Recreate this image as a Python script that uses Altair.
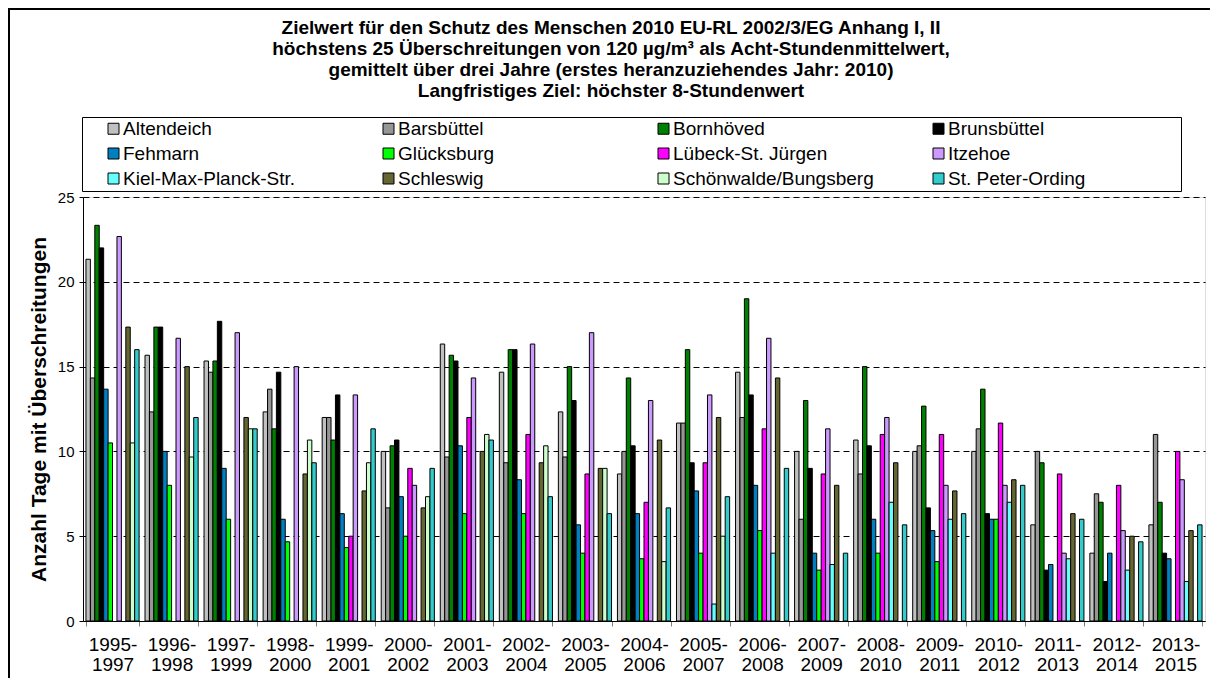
import altair as alt
import pandas as pd

periods = ["1995- 1997", "1996- 1998", "1997- 1999", "1998- 2000", "1999- 2001",
           "2000- 2002", "2001- 2003", "2002- 2004", "2003- 2005", "2004- 2006",
           "2005- 2007", "2006- 2008", "2007- 2009", "2008- 2010", "2009- 2011",
           "2010- 2012", "2011- 2013", "2012- 2014", "2013- 2015"]

stations = ["Altendeich", "Barsbüttel", "Bornhöved", "Brunsbüttel", "Fehmarn",
            "Glücksburg", "Lübeck-St. Jürgen", "Itzehoe", "Kiel-Max-Planck-Str.",
            "Schleswig", "Schönwalde/Bungsberg", "St. Peter-Ording"]

colors = ["#C0C0C0", "#969696", "#008000", "#000000", "#0080C0", "#00FF00",
          "#FF00FF", "#CC99FF", "#66FFFF", "#666633", "#CCFFCC", "#33CCCC"]

altendeich = [21.33, 15.67, 15.33, 12.33, 12, 10, 16.33, 14.67, 12.33, 8.67,
              11.67, 14.67, 10, 10.67, 10, 10, 5.67, 4, 5.67]
barsbuettel = [14.33, 12.33, 14.67, 13.67, 12, 6.67, 9.67, 9.33, 9.67, 10,
               11.67, 12, 6, 8.67, 10.33, 11.33, 10, 7.5, 11]
bornhoeved = [23.33, 17.33, 15.33, 11.33, 10.67, 10.33, 15.67, 16, 15, 14.33,
              16, 19, 13, 15, 12.67, 13.67, 9.33, 7, 7]
brunsbuettel = [22, 17.33, 17.67, 14.67, 13.33, 10.67, 15.33, 16, 13, 10.33,
                9.33, 13.33, 9, 10.33, 6.67, 6.33, 3, 2.33, 4]
fehmarn = [13.67, 10, 9, 6, 6.33, 7.33, 10.33, 8.33, 5.67, 6.33,
           7.67, 8, 4, 6, 5.33, 6, 3.33, 4, 3.67]
gluecksburg = [10.5, 8, 6, 4.67, 4.33, 5, 6.33, 6.33, 4, 3.67,
               4, 5.33, 3, 4, 3.5, 6, None, None, None]
luebeck = [None, None, None, None, 5, 9, 12, 11, 8.67, 7,
           9.33, 11.33, 8.67, 11, 11, 11.67, 8.67, 8, 10]
itzehoe = [22.67, 16.67, 17, 15, 13.33, 8, 14.33, 16.33, 17, 13,
           13.33, 16.67, 11.33, 12, 8, 8, 4, 5.33, 8.33]
kiel = [None, None, None, None, None, None, None, None, None, None,
        1, 4, 3.33, 7, 6, 7, 3.67, 3, 2.33]
schleswig = [17.33, 15, 12, 8.67, 7.67, 6.67, 10, 9.33, 9, 10.67,
             12, 14.33, 8, 9.33, 7.67, 8.33, 6.33, 5, 5.33]
schoenwalde = [10.5, 9.67, 11.33, 10.67, 9.33, 7.33, 11, 10.33, 9, 3.5,
               5, None, None, None, None, None, None, None, None]
st_peter = [16, 12, 11.33, 9.33, 11.33, 9, 10.67, 7.33, 6.33, 6.67,
            7.33, 9, 4, 5.67, 6.33, 8, 6, 4.67, 5.67]

series = [altendeich, barsbuettel, bornhoeved, brunsbuettel, fehmarn, gluecksburg,
          luebeck, itzehoe, kiel, schleswig, schoenwalde, st_peter]

title_lines = [
    "Zielwert für den Schutz des Menschen 2010 EU-RL 2002/3/EG Anhang I, II",
    "höchstens 25 Überschreitungen von 120 µg/m³ als Acht-Stundenmittelwert,",
    "gemittelt über drei Jahre (erstes heranzuziehendes Jahr: 2010)",
    "Langfristiges Ziel: höchster 8-Stundenwert",
]

rows = []
for st, vals in zip(stations, series):
    for p, v in zip(periods, vals):
        if v is not None:
            rows.append({"Zeitraum": p, "Station": st, "Tage": v})
df = pd.DataFrame(rows)

FONT = "Liberation Sans"

bars = alt.Chart(df).mark_bar(stroke="black", strokeWidth=1).encode(
    x=alt.X("Zeitraum:N", sort=periods,
            scale=alt.Scale(domain=periods, paddingInner=0.1, paddingOuter=0.05),
            axis=alt.Axis(title=None, labelAngle=0, tickBand="extent",
                          tickColor="#808080", tickSize=5, domainColor="black",
                          labelExpr="split(datum.label, ' ')", labelLineHeight=20,
                          labelFontSize=19, labelFont=FONT, labelColor="black",
                          labelPadding=9, labelOverlap=False, grid=False)),
    xOffset=alt.XOffset("Station:N", sort=stations,
                        scale=alt.Scale(domain=stations, paddingInner=0, paddingOuter=0)),
    y=alt.Y("Tage:Q", scale=alt.Scale(domain=[0, 25]),
            axis=alt.Axis(values=[0, 5, 10, 15, 20, 25],
                          title="Anzahl Tage mit Überschreitungen",
                          titleFontSize=21, titleFontWeight="bold", titleFont=FONT,
                          titleColor="black", titlePadding=8,
                          labelFontSize=15, labelFont=FONT, labelColor="black",
                          labelPadding=5, tickSize=4, tickColor="black",
                          domainColor="black", grid=True, gridColor="black",
                          gridDash=[6, 4], gridWidth=1)),
    color=alt.Color("Station:N", sort=stations,
                    scale=alt.Scale(domain=stations, range=colors),
                    legend=alt.Legend(orient="none", legendX=-1, legendY=-80,
                                      direction="horizontal", columns=4,
                                      gridAlign="all", title=" ",
                                      titleOrient="right", titlePadding=94,
                                      columnPadding=35, rowPadding=5, padding=2,
                                      symbolOffset=20, symbolType="square",
                                      symbolSize=121, symbolStrokeColor="black",
                                      symbolStrokeWidth=1, labelOffset=0,
                                      labelLimit=400,
                                      labelFontSize=19, labelFont=FONT,
                                      labelColor="black", strokeColor="black",
                                      fillColor="white")),
)

frame_data = alt.Data(values=[{"f": 1}])
left_line = alt.Chart(frame_data).mark_rule(color="black", strokeWidth=2).encode(
    x=alt.value(-74), y=alt.value(-188), y2=alt.value(490))
top_line = alt.Chart(frame_data).mark_rule(color="black", strokeWidth=2).encode(
    x=alt.value(-75), x2=alt.value(1127), y=alt.value(-188))

chart = alt.layer(bars, left_line, top_line).properties(
    width=1122, height=424,
    autosize=alt.AutoSizeParams(type="none"),
    padding={"left": 75, "top": 189, "right": 5, "bottom": 57},
    title=alt.TitleParams(text=title_lines, fontSize=19, fontWeight="bold",
                          font=FONT, color="black", anchor="middle", dx=-33,
                          lineHeight=21, offset=-93),
).configure_view(stroke="black", strokeWidth=1).configure(background="white")

chart.save("out.html", embed_options={"renderer": "svg", "actions": False})
